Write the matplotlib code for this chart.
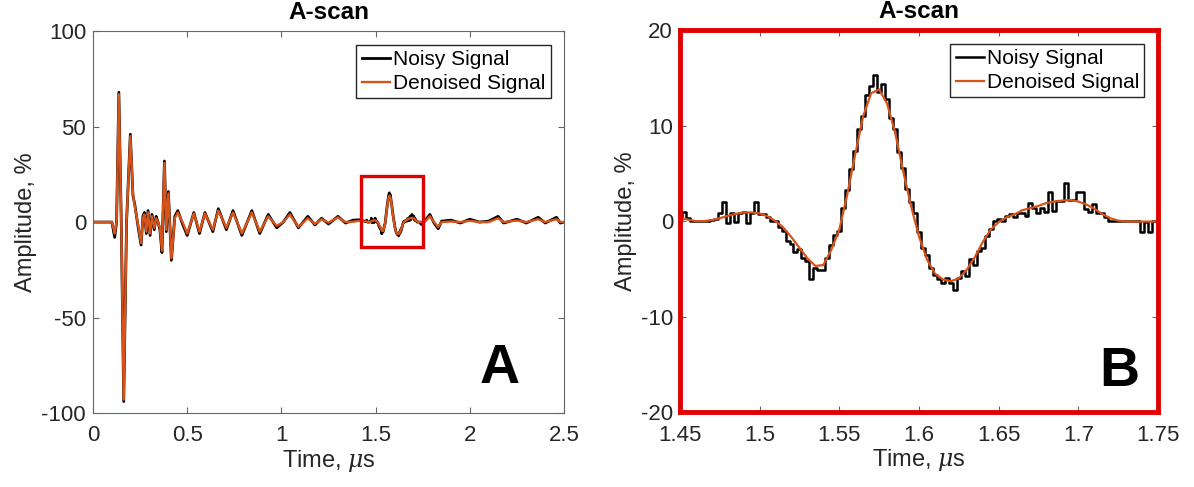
import numpy as np
import matplotlib.pyplot as plt
from matplotlib.patches import Rectangle

# ===== data =====
# full A-scan, part before the zoom window (time in us, amplitude in %)
t_early = [0.00, 0.10, 0.115, 0.125, 0.137, 0.150, 0.163, 0.178, 0.198, 0.212,
           0.222, 0.240, 0.255, 0.265, 0.273, 0.283, 0.292, 0.303, 0.313, 0.325,
           0.335, 0.345, 0.355, 0.366, 0.379, 0.389, 0.400, 0.416, 0.434, 0.450,
           0.475, 0.500, 0.535, 0.565, 0.594, 0.636, 0.665, 0.708, 0.743, 0.790,
           0.843, 0.885, 0.930, 0.975, 1.010, 1.045, 1.090, 1.140, 1.178, 1.213,
           1.250, 1.300, 1.340, 1.380, 1.416, 1.440]
den_early = [0, 0, -6, 0, 67, 0, -93, 0, 45, 15,
             8, -2, -11, 2, 4, -5, 5, -6, 3, -3,
             2, 0, -3, -15, 31, -4, 15, -19, 2, 5,
             0, -6, 4.5, -5, 4.5, -4, 6, -3, 5, -6,
             5, -5, 3, -2, 0, 4, -2.5, 2, -1, 1.5,
             -0.3, 2.5, 0, 0.2, 0.7, 0.3]
noisy_early = [0, 0, -8, 0, 68, 0, -94, 0, 46, 14,
               9, -3, -12, 3, 5, -6, 6, -7, 4, -4,
               3, 0, -4, -16, 32, -5, 16, -20, 3, 6,
               -1, -7, 5, -6, 5, -5, 7, -4, 6, -7,
               6, -6, 4, -3, 0, 5, -3, 3, -1.5, 2,
               -1, 3, -0.5, 1, 1.2, 0.5]

# zoom window 1.45 - 1.75 us
t_zoom_den = np.linspace(1.45, 1.75, 61)
den_zoom = [0.35, 0.15, 0.0, 0.0, 0.1, 0.3, 0.55, 0.75, 0.9, 0.9,
            0.8, 0.5, 0.0, -0.7, -1.7, -2.8, -3.9, -4.7, -4.6, -3.0,
            -0.9, 2.8, 7.0, 11.0, 13.4, 13.8, 12.3, 9.3, 5.3, 1.6,
            -1.6, -4.0, -5.5, -6.1, -6.3, -6.0, -5.1, -3.8, -2.2, -0.9,
            -0.1, 0.4, 0.7, 1.15, 1.35, 1.6, 1.9, 2.05, 2.15, 2.2,
            2.05, 1.75, 1.3, 0.75, 0.3, 0.05, -0.05, -0.05, -0.05, -0.05,
            -0.05]
t_zoom_noisy = np.linspace(1.45, 1.75, 121)
noisy_zoom = [0.2, 1.0, 0.3, 0.0, 0.0, 0.0, 0.0, 0.0, 0.1, 0.2,
              0.9, 2.0, -0.2, 0.9, -0.1, 0.9, 1.0, -0.2, 0.9, 2.0,
              0.7, 0.7, 0.4, 0.0, 0.0, -0.6, -1.0, -2.1, -2.4, -3.2,
              -2.9, -3.9, -4.2, -6.1, -4.9, -5.1, -5.1, -3.9, -2.5, -1.5,
              -1.0, 1.4, 3.3, 5.5, 7.3, 9.6, 11.0, 13.2, 14.2, 15.3,
              13.5, 14.4, 12.8, 10.8, 9.6, 7.2, 5.6, 3.4, 2.0, 0.9,
              -1.1, -2.8, -3.6, -4.9, -5.6, -6.1, -6.5, -6.0, -6.5, -7.2,
              -6.0, -5.2, -5.7, -4.0, -4.6, -3.1, -2.8, -1.6, -0.8, 0.0,
              0.2, 0.0, 0.5, 0.7, 0.4, 0.8, 0.9, 0.5, 1.9, 1.4,
              0.9, 1.4, 1.0, 3.0, 1.1, 2.1, 2.1, 4.0, 2.2, 2.2,
              3.0, 3.1, 1.3, 1.0, 1.75, 0.9, 0.9, 0.4, 0.0, 0.0,
              0.0, 0.0, 0.0, 0.0, 0.0, 0.0, -1.1, -0.1, -1.1, 0.0,
              0.0]

# full A-scan, part after the zoom window
t_late = [1.760, 1.788, 1.810, 1.832, 1.850, 1.900, 1.950, 2.000, 2.050, 2.100,
          2.150, 2.180, 2.250, 2.300, 2.363, 2.400, 2.460, 2.480, 2.500]
den_late = [0, 3, 0, -2.5, 0, 0.3, 0, 0.7, 0, 0,
            2, 0, 0.8, 0, 1.5, 0, 1.5, 0, 0]
noisy_late = [0.5, 4, -0.5, -3.5, 0.5, 1, -0.5, 1.5, 0, 0.5,
              3, -0.5, 1.5, -0.5, 2.5, -0.5, 2.5, -0.5, 0]

zoom_box = [1.42, -13, 0.33, 37]  # x, y, width, height of red window on panel A

t_noisy_full = np.concatenate([t_early, t_zoom_noisy, t_late])
noisy_full = np.concatenate([noisy_early, noisy_zoom, noisy_late])
t_den_full = np.concatenate([t_early, t_zoom_den, t_late])
den_full = np.concatenate([den_early, den_zoom, den_late])

# ===== style =====
plt.rcParams['font.family'] = ['Liberation Sans', 'DejaVu Sans']
plt.rcParams['axes.unicode_minus'] = False
plt.rcParams['mathtext.fontset'] = 'custom'
plt.rcParams['mathtext.it'] = 'DejaVu Serif:italic'
plt.rcParams['mathtext.rm'] = 'Liberation Sans'

orange = '#D95319'
dark = '#262626'
axcol = '#666666'


def style_axes(ax):
    ax.tick_params(direction='in', top=True, right=True, length=4, width=0.8,
                   color=axcol, labelsize=16, labelcolor=dark)
    ax.tick_params(axis='x', pad=9)
    ax.tick_params(axis='y', pad=5)
    for sp in ax.spines.values():
        sp.set_color(axcol)
        sp.set_linewidth(0.8)
    ax.set_xlabel(r'Time, $\mu$s', fontsize=17, color=dark, labelpad=1)
    ax.set_ylabel('Amplitude, %', fontsize=17, color=dark, labelpad=3)
    ax.set_title('A-scan', fontsize=17.5, fontweight='bold', pad=9)
    ax.legend(loc='upper right', fontsize=15, fancybox=False, framealpha=1,
              edgecolor=dark, handlelength=1.35, handletextpad=0.15,
              borderpad=0.25, labelspacing=0.25, borderaxespad=0.65)


fig = plt.figure(figsize=(11.94, 4.87), dpi=100)

# ----- panel A -----
ax1 = fig.add_axes([0.0779, 0.152, 0.3945, 0.784])
ax1.plot(t_noisy_full, noisy_full, color='black', lw=2.0, label='Noisy Signal')
ax1.plot(t_den_full, den_full, color=orange, lw=1.7, label='Denoised Signal')
ax1.add_patch(Rectangle((zoom_box[0], zoom_box[1]), zoom_box[2], zoom_box[3],
                        fill=False, edgecolor='#E00000', lw=2.4, zorder=5))
ax1.set_xlim(0, 2.5)
ax1.set_ylim(-100, 100)
ax1.set_xticks([0, 0.5, 1, 1.5, 2, 2.5])
ax1.set_xticklabels(['0', '0.5', '1', '1.5', '2', '2.5'])
ax1.set_yticks([-100, -50, 0, 50, 100])
style_axes(ax1)
ax1.text(0.864, 0.115, 'A', transform=ax1.transAxes, fontsize=40,
         fontweight='bold', ha='center', va='center')

# ----- panel B -----
ax2 = fig.add_axes([0.5695, 0.154, 0.4003, 0.784])
ax2.plot(t_zoom_noisy, noisy_zoom, color='black', lw=1.8, drawstyle='steps-mid',
         label='Noisy Signal')
ax2.plot(t_zoom_den, den_zoom, color=orange, lw=1.6, label='Denoised Signal')
ax2.set_xlim(1.45, 1.75)
ax2.set_ylim(-20, 20)
ax2.set_xticks([1.45, 1.5, 1.55, 1.6, 1.65, 1.7, 1.75])
ax2.set_xticklabels(['1.45', '1.5', '1.55', '1.6', '1.65', '1.7', '1.75'])
ax2.set_yticks([-20, -10, 0, 10, 20])
style_axes(ax2)
for sp in ax2.spines.values():
    sp.set_color('#E00000')
    sp.set_linewidth(3.5)
ax2.text(0.92, 0.105, 'B', transform=ax2.transAxes, fontsize=40,
         fontweight='bold', ha='center', va='center')

plt.savefig('out.png', dpi=100)
plt.close()
